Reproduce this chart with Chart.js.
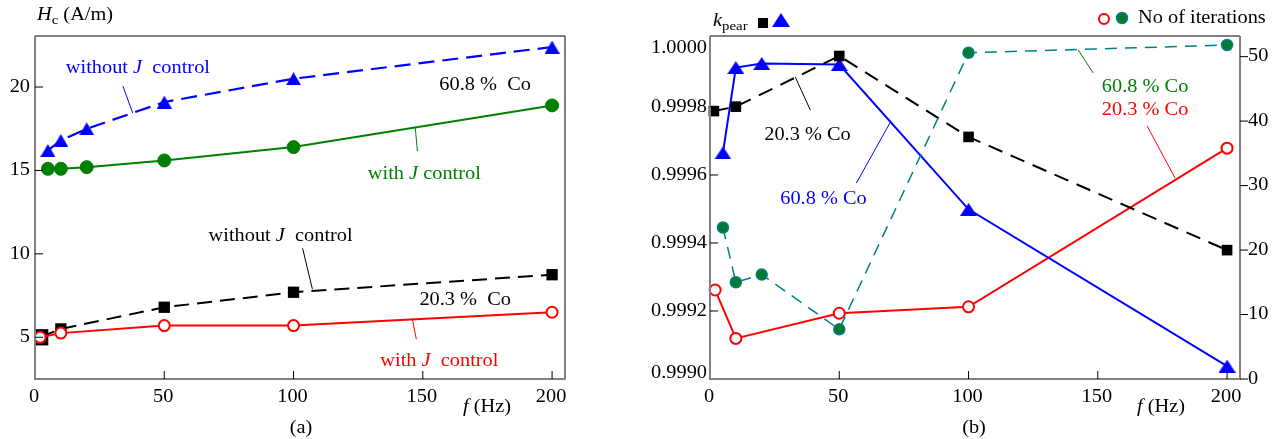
<!DOCTYPE html>
<html><head><meta charset="utf-8">
<script src="https://cdn.jsdelivr.net/npm/chart.js@4.4.0/dist/chart.umd.min.js"></script>
<style>
html,body{margin:0;padding:0;background:#fff;width:1277px;height:439px;overflow:hidden}
#wa{position:absolute;left:0;top:0;width:620px;height:439px}
#wb{position:absolute;left:620px;top:0;width:657px;height:439px}
</style></head><body>
<div id="wa"><canvas id="ca"></canvas></div>
<div id="wb"><canvas id="cb"></canvas></div>
<script>
// ---------- tick labels ----------
const xTicks = [0, 50, 100, 150, 200];
const hcTicks = [5, 10, 15, 20];
const kTicks = [0.9990, 0.9992, 0.9994, 0.9996, 0.9998, 1.0000];
const nTicks = [0, 10, 20, 30, 40, 50];

// ---------- (a) coercivity H_c (A/m) ----------
const fA60 = [5, 10, 20, 50, 100, 200];
const hcWithout60 = [16.2, 16.8, 17.5, 19.1, 20.5, 22.4];
const hcWith60 = [15.1, 15.1, 15.2, 15.6, 16.4, 18.9];
const fA20 = [2, 10, 50, 100, 200];
const hcWithout20 = [5.0, 5.5, 6.8, 7.7, 8.75];
const hcWith20 = [5.0, 5.25, 5.7, 5.7, 6.5];

// ---------- (b) k_pear and number of iterations ----------
const fK20 = [1.5, 10, 50, 100, 200];
const kpear20 = [0.999788, 0.999801, 0.99995, 0.999712, 0.999379];
const fK60 = [5, 10, 20, 50, 100, 200];
const kpear60 = [0.999665, 0.999916, 0.999928, 0.999925, 0.999499, 0.999038];
const fN20 = [2, 10, 50, 100, 200];
const iter20 = [13.8, 6.3, 10.2, 11.2, 35.8];
const fN60 = [5, 10, 20, 50, 100, 200];
const iter60 = [23.5, 15.0, 16.2, 7.7, 50.6, 51.8];

const pts = (xs, ys) => xs.map((x, i) => ({x: x, y: ys[i]}));

// flat blue triangle marker
function triImg(w, h) {
  const c = document.createElement('canvas');
  c.width = w; c.height = h;
  const g = c.getContext('2d');
  g.fillStyle = '#0000ff';
  g.beginPath(); g.moveTo(w / 2, 0); g.lineTo(w, h); g.lineTo(0, h); g.closePath(); g.fill();
  return c;
}
const triA = triImg(15, 13);
const triB = triImg(17, 13);

const SX = 1.1;
function fontFor(s) {
  if (s === 'i') return 'italic 18.5px "Liberation Serif"';
  if (s === 'sub') return '13.5px "Liberation Serif"';
  return '18.5px "Liberation Serif"';
}
function txt(ctx, runs, x, y, align, color) {
  ctx.save();
  ctx.fillStyle = color;
  ctx.textBaseline = 'middle';
  const ws = runs.map(r => { ctx.font = fontFor(r[1]); return ctx.measureText(r[0]).width * SX; });
  const tot = ws.reduce((a, b) => a + b, 0);
  let x0 = align === 'center' ? x - tot / 2 : (align === 'right' ? x - tot : x);
  runs.forEach((r, i) => {
    ctx.font = fontFor(r[1]);
    ctx.save();
    ctx.translate(x0, y + (r[1] === 'sub' ? 5 : 0));
    ctx.scale(SX, 1);
    ctx.textAlign = 'left';
    ctx.fillText(r[0], 0, 0);
    ctx.restore();
    x0 += ws[i];
  });
  ctx.restore();
}
function line(ctx, x1, y1, x2, y2, color, w) {
  ctx.save(); ctx.strokeStyle = color; ctx.lineWidth = w; ctx.setLineDash([]);
  ctx.beginPath(); ctx.moveTo(x1, y1); ctx.lineTo(x2, y2); ctx.stroke(); ctx.restore();
}

// annotations in data units
const annA = [
  {runs: [['without ', 'n'], ['J', 'i'], ['  control', 'n']], c: '#0000ff', at: [39.8, 21.14], lead: [[34.0, 20.06], [37.8, 18.44]]},
  {runs: [['60.8 %  Co', 'n']], c: '#000000', at: [174.1, 20.12]},
  {runs: [['with ', 'n'], ['J', 'i'], [' control', 'n']], c: '#008000', at: [150.6, 14.78], lead: [[147.1, 17.54], [147.9, 16.16]]},
  {runs: [['without ', 'n'], ['J', 'i'], ['  control', 'n']], c: '#000000', at: [95.0, 11.06], lead: [[103.5, 10.34], [107.3, 7.88]]},
  {runs: [['20.3 %  Co', 'n']], c: '#000000', at: [166.4, 7.22]},
  {runs: [['with ', 'n'], ['J', 'i'], ['  control', 'n']], c: '#ff0000', at: [156.4, 3.56], lead: [[145.9, 6.14], [147.5, 4.88]]}
];
const annB = [
  {runs: [['20.3 % Co', 'n']], c: '#000000', at: [37.7, 0.999718], lead: [[33.0, 0.999888], [38.8, 0.999791]]},
  {runs: [['60.8 % Co', 'n']], c: '#0000ff', at: [43.9, 0.999529], lead: [[56.6, 0.999576], [69.8, 0.999756]]},
  {runs: [['60.8 % Co', 'n']], c: '#008000', at: [168.3, 0.999859], lead: [[142.4, 0.999968], [148.2, 0.9999]]},
  {runs: [['20.3 % Co', 'n']], c: '#ff0000', at: [168.3, 0.999791], lead: [[169.1, 0.999744], [179.9, 0.999591]]}
];

function drawAnn(chart, list, ys) {
  const ctx = chart.ctx, sx = chart.scales.x, sy = chart.scales[ys];
  list.forEach(a => {
    if (a.lead) line(ctx, sx.getPixelForValue(a.lead[0][0]), sy.getPixelForValue(a.lead[0][1]),
      sx.getPixelForValue(a.lead[1][0]), sy.getPixelForValue(a.lead[1][1]), a.c, 1);
    txt(ctx, a.runs, sx.getPixelForValue(a.at[0]), sy.getPixelForValue(a.at[1]), 'center', a.c);
  });
}

const GRAY = '#808080';
const decorA = {
  id: 'decorA',
  afterDatasetsDraw(chart) {
    const ctx = chart.ctx, ca = chart.chartArea, sx = chart.scales.x, sy = chart.scales.y;
    line(ctx, ca.left, ca.top, ca.right, ca.top, '#000', 1);
    line(ctx, ca.right, ca.top, ca.right, ca.bottom, '#000', 1);
    line(ctx, ca.left, ca.top, ca.left, ca.bottom + 1, GRAY, 2);
    line(ctx, ca.left - 1, ca.bottom, ca.right + 0.5, ca.bottom, GRAY, 2);
    xTicks.forEach(v => {
      const px = sx.getPixelForValue(v);
      if (v > 0) line(ctx, px, ca.bottom, px, ca.bottom - 8, '#000', 1);
      txt(ctx, [[String(v), 'n']], px - 1, 397, 'center', '#000');
    });
    hcTicks.forEach(v => {
      const py = sy.getPixelForValue(v);
      line(ctx, ca.left, py, ca.left + 8, py, '#000', 1);
      txt(ctx, [[String(v), 'n']], ca.left - 5, py, 'right', '#000');
    });
    drawAnn(chart, annA, 'y');
    txt(ctx, [['H', 'i'], ['c', 'sub'], [' (A/m)', 'n']], 37, 15, 'left', '#000');
    txt(ctx, [['f', 'i'], [' (Hz)', 'n']], 463, 407, 'left', '#000');
    txt(ctx, [['(a)', 'n']], 301, 428, 'center', '#000');
  }
};

const OX = 620;
const decorB = {
  id: 'decorB',
  afterDatasetsDraw(chart) {
    const ctx = chart.ctx, ca = chart.chartArea, sx = chart.scales.x, sy = chart.scales.y, sn = chart.scales.y1;
    line(ctx, ca.left, ca.top, ca.right, ca.top, '#000', 1);
    line(ctx, ca.left, ca.top, ca.left, ca.bottom + 1, GRAY, 2);
    line(ctx, ca.right, ca.top, ca.right, ca.bottom + 1, GRAY, 2);
    line(ctx, ca.left - 1, ca.bottom, ca.right + 1, ca.bottom, GRAY, 2);
    xTicks.forEach(v => {
      const px = sx.getPixelForValue(v);
      if (v > 0) line(ctx, px, ca.bottom, px, ca.bottom - 8, '#000', 1);
      txt(ctx, [[String(v), 'n']], px - 1, 397, 'center', '#000');
    });
    kTicks.forEach(v => {
      const py = sy.getPixelForValue(v);
      if (v > kTicks[0] && v < kTicks[kTicks.length - 1]) line(ctx, ca.left, py, ca.left + 8, py, '#000', 1);
      const ly = Math.min(Math.max(py, ca.top + 12), ca.bottom - 6);
      txt(ctx, [[v.toFixed(4), 'n']], ca.left - 3, ly, 'right', '#000');
    });
    nTicks.forEach(v => {
      const py = sn.getPixelForValue(v);
      line(ctx, ca.right, py, ca.right + 8, py, '#000', 1);
      txt(ctx, [[String(v), 'n']], ca.right + 8, py, 'left', '#000');
    });
    drawAnn(chart, annB, 'y');
    // legends / axis titles
    txt(ctx, [['k', 'i'], ['pear', 'sub']], 713 - OX, 21, 'left', '#000');
    ctx.save();
    ctx.fillStyle = '#000'; ctx.fillRect(758 - OX, 18, 10, 10);
    ctx.fillStyle = '#0000ff'; ctx.beginPath();
    ctx.moveTo(781 - OX, 13); ctx.lineTo(790 - OX, 27); ctx.lineTo(772 - OX, 27); ctx.closePath(); ctx.fill();
    ctx.strokeStyle = '#ff0000'; ctx.lineWidth = 2; ctx.fillStyle = '#fff';
    ctx.beginPath(); ctx.arc(1104 - OX, 19, 5, 0, Math.PI * 2); ctx.fill(); ctx.stroke();
    ctx.fillStyle = '#007a33'; ctx.strokeStyle = '#008080'; ctx.lineWidth = 1.5;
    ctx.beginPath(); ctx.arc(1122 - OX, 18, 5.5, 0, Math.PI * 2); ctx.fill(); ctx.stroke();
    ctx.restore();
    txt(ctx, [['No of iterations', 'n']], 1138 - OX, 18, 'left', '#000');
    txt(ctx, [['f', 'i'], [' (Hz)', 'n']], 1137 - OX, 407, 'left', '#000');
    txt(ctx, [['(b)', 'n']], 974 - OX, 428, 'center', '#000');
  }
};

const common = {
  responsive: true, maintainAspectRatio: false, animation: false,
  plugins: {legend: {display: false}, tooltip: {enabled: false}},
  elements: {line: {tension: 0}}
};
function axis(min, max, extra) {
  return Object.assign({
    type: 'linear', min: min, max: max,
    ticks: {display: false}, grid: {display: false}, border: {display: false}
  }, extra || {});
}

new Chart(document.getElementById('ca'), {
  type: 'line',
  data: {datasets: [
    {order: 0, data: pts(fA20, hcWith20), borderColor: '#ff0000', borderWidth: 2, pointStyle: 'circle',
      pointRadius: 5.5, pointBorderWidth: 2, pointBackgroundColor: '#ffffff', pointBorderColor: '#ff0000'},
    {order: 3, data: pts(fA20, hcWithout20), borderColor: '#000000', borderWidth: 2, borderDash: [15, 8], pointStyle: 'rect',
      pointRadius: [11.5, 8, 8, 8, 8], pointBorderWidth: 0, pointBackgroundColor: '#000', pointBorderColor: '#000'},
    {order: 2, data: pts(fA60, hcWith60), borderColor: '#008000', borderWidth: 2, pointStyle: 'circle',
      pointRadius: 6.5, pointBorderWidth: 1, pointBackgroundColor: '#008000', pointBorderColor: '#008000'},
    {order: 1, data: pts(fA60, hcWithout60), borderColor: '#0000ff', borderWidth: 2.2, borderDash: [16, 8], pointStyle: triA,
      pointRadius: 8, pointBackgroundColor: '#0000ff', pointBorderColor: '#0000ff'}
  ].map(d => Object.assign({fill: false}, d))},
  options: Object.assign({}, common, {
    layout: {padding: {top: 36, right: 55, left: 0, bottom: 0}},
    scales: {
      x: axis(0, 205, {afterFit(s) { s.height = 60; }}),
      y: axis(2.5, 23.06, {afterFit(s) { s.width = 35; }})
    }
  }),
  plugins: [decorA]
});

new Chart(document.getElementById('cb'), {
  type: 'line',
  data: {datasets: [
    {data: pts(fN60, iter60), yAxisID: 'y1', borderColor: '#008080', borderWidth: 1.5, borderDash: [12, 8],
      pointStyle: 'circle', pointRadius: 5.5, pointBorderWidth: 1.5, pointBackgroundColor: '#007a33', pointBorderColor: '#008080'},
    {data: pts(fK20, kpear20), yAxisID: 'y', borderColor: '#000000', borderWidth: 2, borderDash: [15, 9],
      pointStyle: 'rect', pointRadius: 7.5, pointBorderWidth: 0, pointBackgroundColor: '#000', pointBorderColor: '#000'},
    {data: pts(fK60, kpear60), yAxisID: 'y', borderColor: '#0000ff', borderWidth: 2, pointStyle: triB,
      pointRadius: 8, pointBackgroundColor: '#0000ff', pointBorderColor: '#0000ff'},
    {data: pts(fN20, iter20), yAxisID: 'y1', borderColor: '#ff0000', borderWidth: 2, pointStyle: 'circle',
      pointRadius: 5.5, pointBorderWidth: 2, pointBackgroundColor: '#ffffff', pointBorderColor: '#ff0000'}
  ].map(d => Object.assign({fill: false, clip: 12}, d))},
  options: Object.assign({}, common, {
    layout: {padding: {top: 36, right: 0, left: 0, bottom: 0}},
    scales: {
      x: axis(0, 205, {afterFit(s) { s.height = 60; }}),
      y: axis(0.9990, 1.0000088, {position: 'left', afterFit(s) { s.width = 90; }}),
      y1: axis(0, 53.2, {position: 'right', afterFit(s) { s.width = 37; }})
    }
  }),
  plugins: [decorB]
});
</script>
</body></html>
